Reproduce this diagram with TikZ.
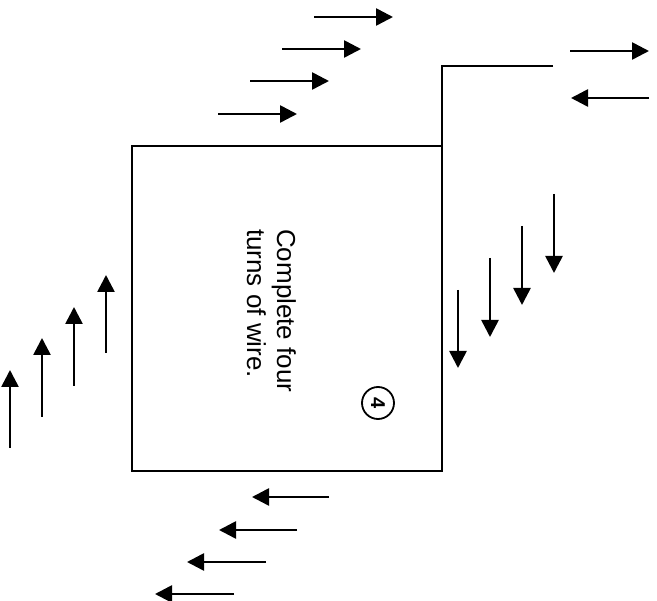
\documentclass[tikz,border=0pt]{standalone}
\usepackage{fontspec}
\setmainfont{Liberation Sans}
\usetikzlibrary{arrows.meta}
\begin{document}
\begin{tikzpicture}[x=1pt,y=-1pt,
  wire/.style={line width=2.6pt,line join=miter},
  flow/.style={line width=2.6pt,-{Triangle[length=17pt,width=17pt]}},
  lbl/.style={font=\fontsize{26}{30}\selectfont,rotate=-90,anchor=base west,inner sep=0pt}]
\useasboundingbox (0,0) rectangle (657,601);
% coil and lead
\draw[wire] (553,66) -- (442,66) -- (442,471) -- (132,471) -- (132,146) -- (442,146);
% text
\node[lbl] (t1) at (277,229) {Complete four};
\node[lbl] (t2) at (247,229) {turns of wire.};
\node[circle,draw,line width=1.8pt,minimum size=32pt,inner sep=0pt,rotate=-90,
      font=\fontsize{20}{20}\selectfont\bfseries] (num) at (378,403) {4};
% top arrows
\draw[flow] (314,17) -- (393,17);
\draw[flow] (282,49) -- (361,49);
\draw[flow] (250,81) -- (329,81);
\draw[flow] (218,114) -- (297,114);
% top-right arrows
\draw[flow] (570,51) -- (649,51);
\draw[flow] (649,98) -- (571,98);
% right arrows
\draw[flow] (554,194) -- (554,273);
\draw[flow] (522,226) -- (522,305);
\draw[flow] (490,258) -- (490,337);
\draw[flow] (458,290) -- (458,368);
% left arrows
\draw[flow] (10,448) -- (10,370);
\draw[flow] (42,417) -- (42,338);
\draw[flow] (74,386) -- (74,307);
\draw[flow] (106,353) -- (106,275);
% bottom arrows
\draw[flow] (329,497) -- (252,497);
\draw[flow] (297,530) -- (219,530);
\draw[flow] (266,562) -- (187,562);
\draw[flow] (234,594) -- (155,594);
\end{tikzpicture}
\end{document}
